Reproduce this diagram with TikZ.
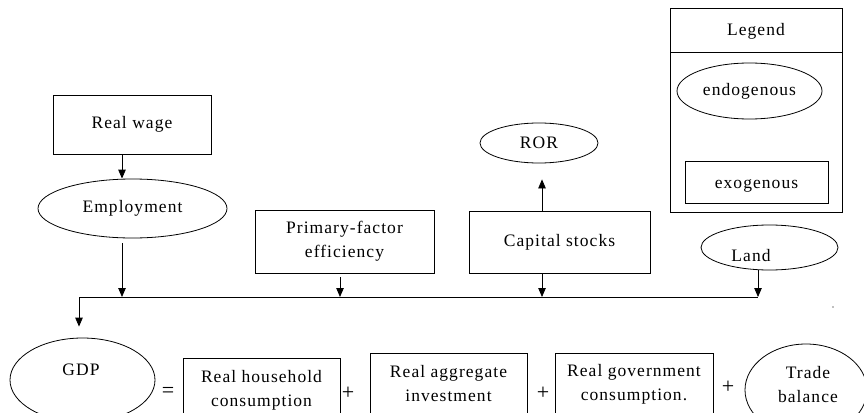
\documentclass[tikz,border=0pt]{standalone}
\usepackage{fontspec}
\setmainfont{Liberation Serif}[LetterSpace=6]
\newfontfamily\opfont{Liberation Serif}
\usetikzlibrary{shapes.geometric,arrows.meta}
\begin{document}
\begin{tikzpicture}[x=1pt,y=-1pt,
  every node/.style={font=\fontsize{17.5}{24}\selectfont, inner sep=0pt, align=center},
  op/.style={font=\opfont\fontsize{22}{24}\selectfont},
  box/.style={draw, line width=0.8pt, rectangle},
  oval/.style={draw, line width=0.8pt, ellipse},
  arr/.style={-{Triangle[length=9pt,width=7.5pt]}, line width=0.8pt},
  ln/.style={line width=0.8pt}]
\useasboundingbox (0,0) rectangle (864,412);
\clip (0,0) rectangle (864,412);

% top-left chain
\node[box, minimum width=158pt, minimum height=59pt] (realwage) at (132,124.5) {Real wage};
\node[oval, minimum width=189pt, minimum height=59pt] (employment) at (132.5,208.5) {Employment};

% middle boxes
\node[box, minimum width=179pt, minimum height=63pt] (primary) at (344.5,241.5) {Primary-factor\\efficiency};
\node[box, minimum width=181pt, minimum height=62pt] (capital) at (559.5,242) {Capital stocks};
\node[oval, minimum width=118pt, minimum height=40pt] (ror) at (539,143) {ROR};
\node[oval, minimum width=137pt, minimum height=45pt] (land) at (769.5,247.5) {};
\node (landtxt) at (751,256) {Land};

% legend
\node[box, minimum width=172pt, minimum height=204pt] (legend) at (756,110) {};
\coordinate (divL) at (670,52);
\coordinate (divR) at (842,52);
\draw[ln] (divL) -- (divR);
\node (legendtxt) at (756,31) {Legend};
\node[oval, minimum width=145pt, minimum height=56pt] (endo) at (749.5,91) {endogenous};
\node[box, minimum width=143pt, minimum height=42pt] (exo) at (756.5,182) {};
\node (exotxt) at (756.5,186) {exogenous};

% bus
\coordinate (busL) at (79,297);
\coordinate (busR) at (758,297);
\coordinate (xE) at (122,0);
\coordinate (xP) at (340,0);
\coordinate (xC) at (542,0);
\coordinate (xL) at (758,0);
\draw[ln] (busL) -- (busR);

% bottom row
\node[oval, minimum width=145pt, minimum height=84pt] (gdp) at (82.5,380) {};
\node (gdptxt) at (81,370) {GDP};
\node[op] (eq) at (168,392) {=};
\node[box, minimum width=157pt, minimum height=64pt] (hh) at (261.5,390) {Real household\\consumption};
\node[op] (p1) at (348,393) {+};
\node[box, minimum width=157pt, minimum height=62pt] (agg) at (448.5,384) {Real aggregate\\investment};
\node[op] (p2) at (543,393) {+};
\node[box, minimum width=158pt, minimum height=62pt] (gov) at (634,384) {Real government\\consumption.};
\node[op] (p3) at (728,387) {+};
\node[oval, minimum width=122pt, minimum height=92pt] (trade) at (806,390) {};
\node (tradetxt) at (808,385) {Trade\\balance};

% small stray dot
\fill[gray] (833,307) circle (0.9pt);

% connectors
\draw[arr] (realwage.south -| xE) -- (employment.north -| xE);
\draw[arr, shorten <=5pt] (employment.south -| xE) -- (busL -| xE);
\draw[arr, shorten <=4pt] (primary.south -| xP) -- (busL -| xP);
\draw[arr] (capital.south -| xC) -- (busL -| xC);
\draw[arr, shorten >=16pt] (capital.north -| xC) -- (ror.south -| xC);
\draw[arr] (land.south -| xL) -- (busR);
\draw[arr, shorten >=11pt] (busL) -- (gdp.north -| busL);
\end{tikzpicture}
\end{document}
